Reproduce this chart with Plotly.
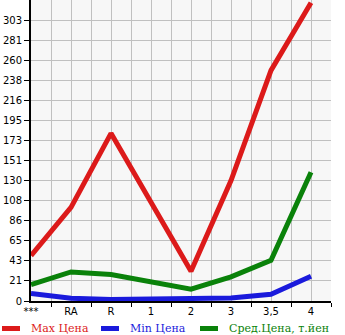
import plotly.graph_objects as go

categories = ["***", "RA", "R", "1", "2", "3", "3,5", "4"]
max_price = [49, 101, 181, 107, 32, 130, 249, 322]
min_price = [8, 3, 1.5, 2.5, 2.6, 3.3, 7.2, 26.7]
avg_price = [17.7, 31.4, 28.5, 20.6, 12.7, 26, 44, 139]
y_tick_labels = ["0", "21", "43", "65", "86", "108", "130", "151", "173",
                 "195", "216", "238", "260", "281", "303"]
series_names = ["Max Цена", "Min Цена", "Сред.Цена, т.йен"]
series_colors = ["#dc1a1a", "#1a1adc", "#0a820a"]

y_step = 303 / 14
y_tickvals = [i * y_step for i in range(len(y_tick_labels))]
xpos = list(range(len(categories)))

W, H = 345, 335
ML, MR, MT, MB = 31, 14, 0, 34
PW, PH = W - ML - MR, H - MT - MB

def px_x(p):
    return (p - ML) / PW

def px_y(p):
    return (H - MB - p) / PH

fig = go.Figure()
for name, vals, col in zip(series_names, [max_price, min_price, avg_price], series_colors):
    fig.add_trace(go.Scatter(
        x=xpos, y=vals, mode="lines", name=name,
        line=dict(color=col, width=5), showlegend=False,
    ))

# manual legend
leg_y = 328.5
shapes, annotations = [], []
for i, (name, col) in enumerate(zip(series_names, series_colors)):
    x0 = i * 99
    shapes.append(dict(type="line", xref="paper", yref="paper",
                       x0=px_x(x0 + 2), x1=px_x(x0 + 20), y0=px_y(leg_y), y1=px_y(leg_y),
                       line=dict(color=col, width=5)))
    annotations.append(dict(xref="paper", yref="paper", x=px_x(x0 + 29), y=px_y(leg_y),
                            xanchor="left", yanchor="middle", showarrow=False,
                            text=name, font=dict(family="DejaVu Serif", size=11, color=col)))

fig.update_layout(
    width=W, height=H,
    margin=dict(l=ML, r=MR, t=MT, b=MB),
    paper_bgcolor="white",
    plot_bgcolor="#f7f7f7",
    showlegend=False,
    shapes=shapes, annotations=annotations,
    font=dict(family="DejaVu Sans", size=10, color="black"),
)
fig.update_xaxes(
    range=[0, 7.5], tickvals=xpos, ticktext=categories, ticks="",
    showgrid=True, gridcolor="#c0c0c0", gridwidth=1,
    minor=dict(tickvals=[i + 0.5 for i in xpos], ticks="outside", ticklen=4,
               tickcolor="black", showgrid=True, gridcolor="#c0c0c0", gridwidth=1),
    showline=True, linecolor="black", linewidth=2, zeroline=False,
    tickfont=dict(size=10),
)
fig.update_yaxes(
    range=[0, 325], tickvals=y_tickvals, ticktext=y_tick_labels,
    ticks="outside", ticklen=5, tickcolor="black",
    showgrid=True, gridcolor="#c0c0c0", gridwidth=1,
    showline=True, linecolor="black", linewidth=2, zeroline=False,
    tickfont=dict(size=10),
)

fig.write_html("out.html")
